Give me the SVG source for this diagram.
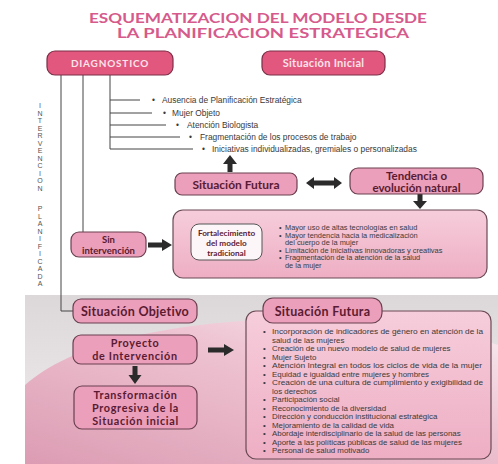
<svg xmlns="http://www.w3.org/2000/svg" width="498" height="464" viewBox="0 0 498 464">
<defs>
<style>
.t{font-family:Lato,"Open Sans","Liberation Sans",sans-serif;font-weight:bold;fill:#5a1a33;text-anchor:middle}
.tt{font-family:Lato,"Open Sans","Liberation Sans",sans-serif;font-weight:bold;fill:#d65a8b;text-anchor:middle;font-size:12.5px}
.hd{fill:#e2577e;stroke:#7a2f48;stroke-width:1.2}
.hdt{font-family:Lato,"Open Sans","Liberation Sans",sans-serif;font-weight:bold;fill:#fbe3ea;text-anchor:middle}
.bx{fill:#eb9fba;stroke:#6a4050;stroke-width:1.2}
.ln{stroke:#444;stroke-width:1;fill:none}
.ar{fill:#2b2b2b}
.li{font-family:"Liberation Sans",Arial,sans-serif;fill:#3a3a3a}
.vt{font-family:"Liberation Sans",Arial,sans-serif;font-size:7px;fill:#555;text-anchor:middle}
</style>
<linearGradient id="bg" x1="0" y1="0" x2="0" y2="1">
<stop offset="0" stop-color="#dcd8da"/>
<stop offset="1" stop-color="#f2eef0"/>
</linearGradient>
<linearGradient id="pk" x1="0" y1="1" x2="1" y2="0">
<stop offset="0" stop-color="#dc9cb3"/>
<stop offset="0.6" stop-color="#eec3d1"/>
<stop offset="1" stop-color="#f8eef2"/>
</linearGradient>
<linearGradient id="bb" x1="0" y1="0" x2="0" y2="1">
<stop offset="0" stop-color="#f6cddb"/>
<stop offset="1" stop-color="#eeaec4"/>
</linearGradient>
</defs>
<rect width="498" height="464" fill="#ffffff"/>
<g id="background">
<rect x="25" y="295" width="473" height="169" fill="url(#bg)"/>
<path d="M25,385 C70,345 160,322 300,318 C380,316 450,330 498,345 L498,464 L25,464 Z" fill="url(#pk)"/>
</g>
<g id="title">
<text x="258" y="23" class="tt" textLength="338" lengthAdjust="spacingAndGlyphs">ESQUEMATIZACION DEL MODELO DESDE</text>
<text x="263" y="38" class="tt" textLength="292" lengthAdjust="spacingAndGlyphs">LA PLANIFICACION ESTRATEGICA</text>
</g>
<g id="vertical-label">
<text class="vt" x="40" y="108">I</text><text class="vt" x="40" y="115.5">N</text><text class="vt" x="40" y="123">T</text><text class="vt" x="40" y="130.5">E</text><text class="vt" x="40" y="138">R</text><text class="vt" x="40" y="145.5">V</text><text class="vt" x="40" y="153">E</text><text class="vt" x="40" y="160.5">N</text><text class="vt" x="40" y="168">C</text><text class="vt" x="40" y="175.5">I</text><text class="vt" x="40" y="183">O</text><text class="vt" x="40" y="190.5">N</text>
<text class="vt" x="40" y="211">P</text><text class="vt" x="40" y="218.5">L</text><text class="vt" x="40" y="226">A</text><text class="vt" x="40" y="233.5">N</text><text class="vt" x="40" y="241">I</text><text class="vt" x="40" y="248.5">F</text><text class="vt" x="40" y="256">I</text><text class="vt" x="40" y="263.5">C</text><text class="vt" x="40" y="271">A</text><text class="vt" x="40" y="278.5">D</text><text class="vt" x="40" y="286">A</text>
</g>
<g id="connectors">
<path class="ln" d="M61,75 V311 H73"/>
<path class="ln" d="M83,75 V232"/>
<path class="ln" d="M110,75 V149"/>
<path class="ln" d="M110,100 H140 M110,113 H152 M110,125 H166 M110,137 H180 M110,149 H193"/>
<polygon class="ar" points="227.5,172 232.5,172 232.5,164 237,164 230,155 223,164 227.5,164"/>
<polygon class="ar" points="306,183 314,177 314,180.5 334,180.5 334,177 342,183 334,189 334,185.5 314,185.5 314,189"/>
<polygon class="ar" points="417.5,194 422.5,194 422.5,201 427,201 420,209 413,201 417.5,201"/>
<polygon class="ar" points="148,242.5 162,242.5 162,239 172,245 162,251 162,247.5 148,247.5"/>
<polygon class="ar" points="208,347.5 224,347.5 224,344 234,350 224,356 224,352.5 208,352.5"/>
<polygon class="ar" points="132.5,366 137.5,366 137.5,375 141.5,375 135,384 128.5,375 132.5,375"/>
</g>
<g id="diagnostico">
<rect class="hd" x="47" y="51" width="126" height="24" rx="8"/>
<text class="hdt" x="110" y="67" font-size="10" letter-spacing="0.8">DIAGNOSTICO</text>
</g>
<g id="situacion-inicial">
<rect class="hd" x="262" y="51" width="123" height="24" rx="8"/>
<text class="hdt" x="323.5" y="67" font-size="11" letter-spacing="0.3">Situación Inicial</text>
</g>
<g id="diagnostico-list">
<text class="li" font-size="8.4"><tspan x="152" y="103">•</tspan><tspan x="162" y="103">Ausencia de Planificación Estratégica</tspan></text>
<text class="li" font-size="8.4"><tspan x="163" y="116">•</tspan><tspan x="172" y="116">Mujer Objeto</tspan></text>
<text class="li" font-size="8.4"><tspan x="176" y="128">•</tspan><tspan x="187" y="128">Atención Biologista</tspan></text>
<text class="li" font-size="8.4"><tspan x="189" y="140">•</tspan><tspan x="200" y="140">Fragmentación de los procesos de trabajo</tspan></text>
<text class="li" font-size="8.4"><tspan x="202" y="152">•</tspan><tspan x="212" y="152">Iniciativas individualizadas, gremiales o personalizadas</tspan></text>
</g>
<g id="situacion-futura-1">
<rect class="bx" x="175" y="173" width="122" height="22" rx="7"/>
<text class="t" x="236" y="188.5" font-size="12">Situación Futura</text>
</g>
<g id="tendencia">
<rect class="bx" x="350" y="168" width="133" height="26" rx="8"/>
<text class="t" x="416.5" y="179.5" font-size="11.5">Tendencia o</text>
<text class="t" x="416.5" y="191.5" font-size="11.5">evolución natural</text>
</g>
<g id="fortalecimiento">
<rect x="173" y="210" width="314" height="68" rx="10" fill="url(#bb)" stroke="#6a4a55" stroke-width="1.2"/>
<rect x="191" y="224" width="71" height="36" rx="8" fill="#fdf6f8" stroke="#555" stroke-width="1"/>
<text class="t" x="226.5" y="236" font-size="8.2">Fortalecimiento</text>
<text class="t" x="226.5" y="246" font-size="8.2">del modelo</text>
<text class="t" x="226.5" y="256" font-size="8.2">tradicional</text>
<text class="li" font-size="7.4">
<tspan x="279" y="230">•</tspan><tspan x="285" y="230">Mayor uso de altas tecnologías en salud</tspan>
<tspan x="279" y="237.5">•</tspan><tspan x="285" y="237.5">Mayor tendencia hacia la medicalización</tspan>
<tspan x="285" y="245">del cuerpo de la mujer</tspan>
<tspan x="279" y="252.5">•</tspan><tspan x="285" y="252.5">Limitación de iniciativas innovadoras y creativas</tspan>
<tspan x="279" y="260">•</tspan><tspan x="285" y="260">Fragmentación de la atención de la salud</tspan>
<tspan x="285" y="267.5">de la mujer</tspan>
</text>
</g>
<g id="sin-intervencion">
<rect class="bx" x="71" y="232" width="75" height="25" rx="8"/>
<text class="t" x="108.5" y="243" font-size="9.5">Sin</text>
<text class="t" x="108.5" y="253.5" font-size="9.5">intervención</text>
</g>
<g id="situacion-objetivo">
<rect class="bx" x="73" y="299" width="124" height="24" rx="8"/>
<text class="t" x="135" y="315.5" font-size="12.5" letter-spacing="0.3">Situación Objetivo</text>
</g>
<g id="proyecto">
<rect class="bx" x="73" y="335" width="124" height="29" rx="8"/>
<text class="t" x="135" y="347" font-size="10.8" letter-spacing="0.7">Proyecto</text>
<text class="t" x="135" y="360" font-size="10.8" letter-spacing="0.7">de Intervención</text>
</g>
<g id="transformacion">
<rect class="bx" x="74" y="386" width="123" height="43" rx="8"/>
<text class="t" x="135.5" y="398.5" font-size="10.8" letter-spacing="0.7">Transformación</text>
<text class="t" x="135.5" y="411.5" font-size="10.8" letter-spacing="0.7">Progresiva de la</text>
<text class="t" x="135.5" y="424.5" font-size="10.8" letter-spacing="0.7">Situación inicial</text>
</g>
<g id="situacion-futura-2">
<rect x="246" y="311" width="245" height="148" rx="10" fill="url(#bb)" stroke="#6a4a55" stroke-width="1.2"/>
<rect class="bx" x="263" y="298" width="119" height="25" rx="10"/>
<text class="t" x="322.5" y="315.5" font-size="12.5" letter-spacing="0.3">Situación Futura</text>
<text class="li" font-size="7.9">
<tspan x="263" y="334">•</tspan><tspan x="272" y="334" textLength="211" lengthAdjust="spacingAndGlyphs">Incorporación de indicadores de género en atención de la</tspan>
<tspan x="272" y="342.5">salud de las mujeres</tspan>
<tspan x="263" y="351">•</tspan><tspan x="272" y="351">Creación de un nuevo modelo de salud de mujeres</tspan>
<tspan x="263" y="359.5">•</tspan><tspan x="272" y="359.5">Mujer Sujeto</tspan>
<tspan x="263" y="368">•</tspan><tspan x="272" y="368" textLength="210" lengthAdjust="spacingAndGlyphs">Atención Integral en todos los ciclos de vida de la mujer</tspan>
<tspan x="263" y="376.5">•</tspan><tspan x="272" y="376.5">Equidad e igualdad entre mujeres y hombres</tspan>
<tspan x="263" y="385">•</tspan><tspan x="272" y="385" textLength="211" lengthAdjust="spacingAndGlyphs">Creación de una cultura de cumplimiento y exigibilidad de</tspan>
<tspan x="272" y="393.5">los derechos</tspan>
<tspan x="263" y="402">•</tspan><tspan x="272" y="402">Participación social</tspan>
<tspan x="263" y="410.5">•</tspan><tspan x="272" y="410.5">Reconocimiento de la diversidad</tspan>
<tspan x="263" y="419">•</tspan><tspan x="272" y="419">Dirección y conducción institucional estratégica</tspan>
<tspan x="263" y="427.5">•</tspan><tspan x="272" y="427.5">Mejoramiento de la calidad de vida</tspan>
<tspan x="263" y="436">•</tspan><tspan x="272" y="436">Abordaje interdisciplinario de la salud de las personas</tspan>
<tspan x="263" y="444.5">•</tspan><tspan x="272" y="444.5">Aporte a las políticas públicas de salud de las mujeres</tspan>
<tspan x="263" y="453">•</tspan><tspan x="272" y="453">Personal de salud motivado</tspan>
</text>
</g>
</svg>
